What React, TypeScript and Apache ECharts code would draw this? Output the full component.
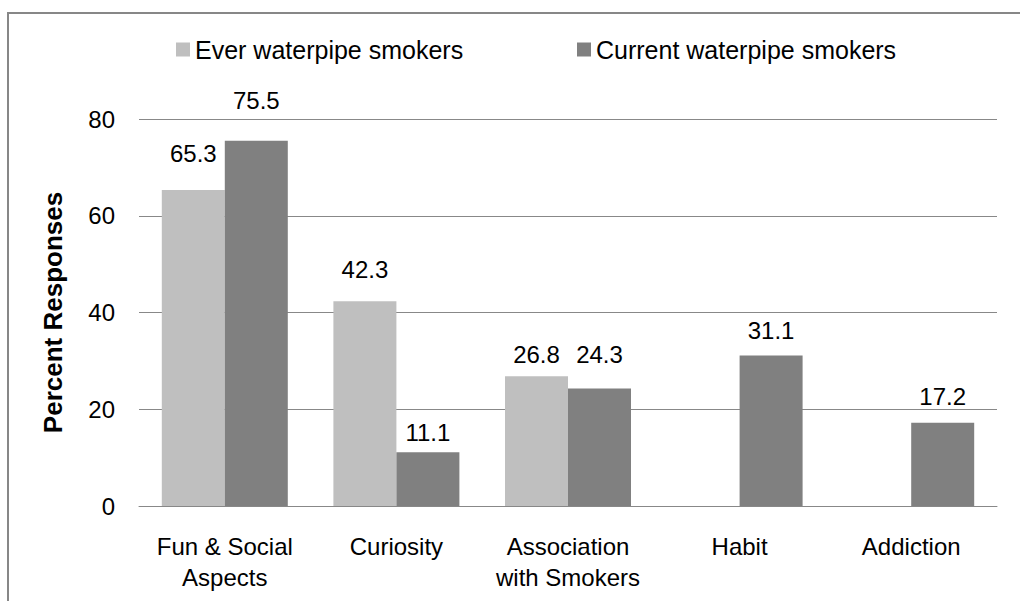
import React, { useEffect, useRef } from "react";
import * as echarts from "echarts";

const categories = ["Fun & Social\nAspects", "Curiosity", "Association\nwith Smokers", "Habit", "Addiction"];
const everSmokers: (number | null)[] = [65.3, 42.3, 26.8, null, null];
const currentSmokers: number[] = [75.5, 11.1, 24.3, 31.1, 17.2];
const seriesNames = ["Ever waterpipe smokers", "Current waterpipe smokers"];
const yTicks = { min: 0, max: 80, interval: 20 };
const yTitle = "Percent Responses";

// label placement (style only): gap in px between bar top and its value label
const everLabelGap = [25, 20, 10, 0, 0];
const currentLabelGap = [28, 8, 22, 13, 14];

const FONT = "'Liberation Sans', Arial, sans-serif";

export default function App() {
  const ref = useRef<HTMLDivElement>(null);
  useEffect(() => {
    if (!ref.current) return;
    const chart = echarts.init(ref.current, undefined, { renderer: "svg" });
    const labelCfg = {
      show: true,
      position: "top" as const,
      distance: 10,
      color: "#000",
      fontSize: 24,
      fontFamily: FONT,
      formatter: (p: any) => (p.value == null ? "" : Number(p.value).toFixed(1)),
    };
    const withGaps = (vals: (number | null)[], gaps: number[]) =>
      vals.map((v, i) => ({ value: v, label: { distance: gaps[i] } }));
    const legendText = { fontSize: 25, color: "#000", fontFamily: FONT };
    chart.setOption({
      animation: false,
      backgroundColor: "#fff",
      textStyle: { fontFamily: FONT },
      graphic: [
        {
          type: "rect",
          shape: { x: 8, y: 13, width: 1100, height: 700 },
          style: { fill: "none", stroke: "#878787", lineWidth: 2 },
          silent: true,
        },
      ],
      legend: [
        {
          data: [seriesNames[0]],
          left: 171,
          top: 32,
          icon: "rect",
          itemWidth: 14,
          itemHeight: 14,
          textStyle: legendText,
        },
        {
          data: [seriesNames[1]],
          left: 572,
          top: 32,
          icon: "rect",
          itemWidth: 14,
          itemHeight: 14,
          textStyle: legendText,
        },
      ],
      grid: { left: 139, right: 23, top: 119, bottom: 95, containLabel: false },
      xAxis: {
        type: "category",
        data: categories,
        axisLine: { show: true, lineStyle: { color: "#888", width: 1 } },
        axisTick: { show: false },
        axisLabel: {
          fontSize: 24,
          color: "#000",
          fontFamily: FONT,
          margin: 25,
          lineHeight: 31,
          interval: 0,
        },
      },
      yAxis: {
        type: "value",
        min: yTicks.min,
        max: yTicks.max,
        interval: yTicks.interval,
        name: yTitle,
        nameLocation: "middle",
        nameGap: 73,
        nameTextStyle: { fontSize: 26, fontWeight: "bold", color: "#000", fontFamily: FONT },
        axisLine: { show: false },
        axisTick: { show: false },
        axisLabel: { fontSize: 24, color: "#000", fontFamily: FONT, margin: 24 },
        splitLine: { lineStyle: { color: "#888", width: 1 } },
      },
      series: [
        {
          name: seriesNames[0],
          type: "bar",
          data: withGaps(everSmokers, everLabelGap),
          barWidth: 63,
          barGap: "0%",
          itemStyle: { color: "#BFBFBF" },
          label: labelCfg,
        },
        {
          name: seriesNames[1],
          type: "bar",
          data: withGaps(currentSmokers, currentLabelGap),
          barWidth: 63,
          barGap: "0%",
          itemStyle: { color: "#808080" },
          label: labelCfg,
        },
      ],
    });
    return () => chart.dispose();
  }, []);
  return (
    <div
      ref={ref}
      style={{ position: "fixed", left: 0, top: 0, width: 1020, height: 601 }}
    />
  );
}
